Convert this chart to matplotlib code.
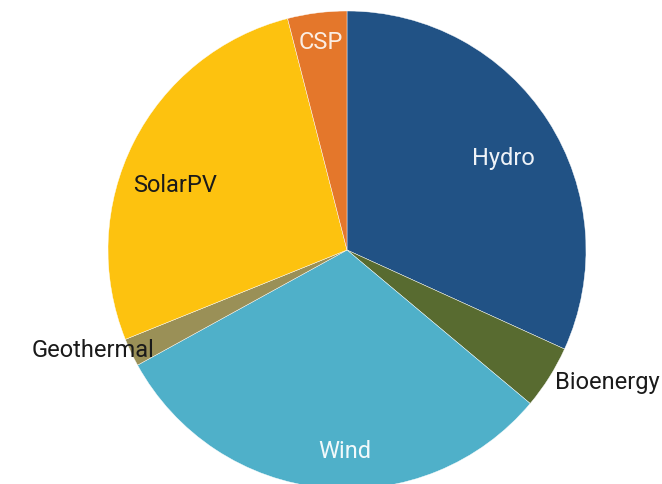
import numpy as np
import matplotlib.pyplot as plt

# shares (percent)
sources = ["Hydro", "Bioenergy", "Wind", "Geothermal", "SolarPV", "CSP"]
shares = [31.8, 4.3, 30.9, 1.9, 27.1, 4.0]
colors = ["#215285", "#586b30", "#4fb0c9", "#9a9057", "#fdc20f", "#e4772b"]
text_colors = ["#eef2f7", "#1a1a1a", "#f2f9fb", "#1a1a1a", "#1a1a1a", "#fbeee4"]

# label placement: (radius, angle offset in degrees, horizontal alignment)
label_pos = {
    "Hydro": (0.76, -2, "center"),
    "Bioenergy": (1.03, 0, "left"),
    "Wind": (0.84, 5, "center"),
    "Geothermal": (1.14, -4, "center"),
    "SolarPV": (0.77, 6, "center"),
    "CSP": (0.88, 0, "center"),
}


def main():
    plt.rcParams["font.family"] = ["Roboto", "DejaVu Sans"]
    fig = plt.figure(figsize=(6.62, 4.85), dpi=100)
    ax = fig.add_axes([0, 0, 1, 1])

    wedges, _ = ax.pie(shares, colors=colors, startangle=90, counterclock=False,
                       radius=1, center=(0, 0),
                       wedgeprops=dict(edgecolor="white", linewidth=0.3))

    for w, name, tc in zip(wedges, sources, text_colors):
        r, dth, ha = label_pos[name]
        th = np.deg2rad((w.theta1 + w.theta2) / 2 + dth)
        ax.text(r * np.cos(th), r * np.sin(th), name, ha=ha, va="center",
                fontsize=17, fontweight="normal", color=tc)

    # pie centre sits at (347, 251) px with radius ~239 px
    ax.set_xlim(-347 / 239, (662 - 347) / 239)
    ax.set_ylim(-(485 - 251) / 239, 251 / 239)
    ax.set_aspect("auto")
    ax.axis("off")

    fig.savefig("out.png", dpi=100, facecolor="white")
    plt.close(fig)


if __name__ == "__main__":
    main()
